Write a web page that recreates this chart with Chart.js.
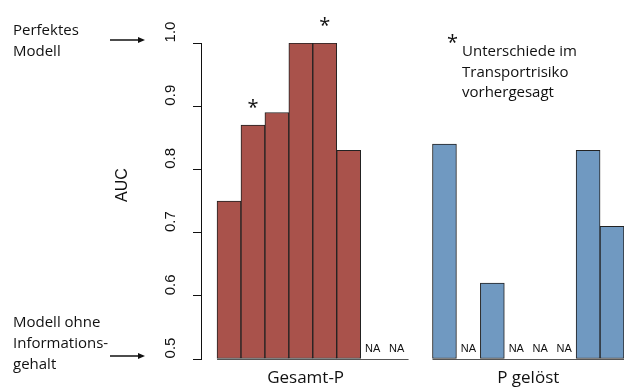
<!DOCTYPE html>
<html>
<head>
<meta charset="utf-8">
<script src="https://cdn.jsdelivr.net/npm/chart.js@4"></script>
<style>
    body { margin: 0; background: #fff; }
    canvas { display: block; }
</style>
</head>
<body>
<canvas id="aucChart" width="625" height="387"></canvas>
<script>
const GROUPS = ['Gesamt-P', 'P gelöst'];
const GESAMT_P = [0.75, 0.87, 0.89, 1.0, 1.0, 0.83, null, null];
const P_GELOEST = [0.84, null, 0.62, null, null, null, 0.83, 0.71];
const GESAMT_P_SIG = [false, true, false, false, true, false, false, false];
const P_GELOEST_SIG = [false, false, false, false, false, false, false, false];
const Y_TICKS = [0.5, 0.6, 0.7, 0.8, 0.9, 1.0];

const RED = '#a9524b';
const BLUE = '#7099c1';
const GROUP_START = [0, 9];   // x slot where each group begins
const TEXT_FONT = '"Open Sans", sans-serif';
const AXIS_FONT = '"Liberation Sans", Arial, sans-serif';
const INK = '#111';

function toPoints(values, start) {
    return values
        .map((v, i) => ({ x: start + i, y: v }))
        .filter(p => p.y !== null);
}

function makeDataset(label, values, start, color) {
    return {
        label: label,
        data: toPoints(values, start),
        base: 0.5,
        grouped: false,
        backgroundColor: color,
        borderColor: '#222',
        borderWidth: 1,
        borderSkipped: false,
        barPercentage: 1,
        categoryPercentage: 1
    };
}

// everything R draws outside the bars: labels, NA marks, stars, notes
const decorations = {
    id: 'decorations',
    afterDraw(chart) {
        const ctx = chart.ctx;
        const x = chart.scales.x;
        const y = chart.scales.y;
        const y0 = y.getPixelForValue(0.5);
        ctx.save();
        ctx.fillStyle = INK;
        ctx.strokeStyle = INK;

        // rotated y tick labels
        ctx.font = '15px ' + AXIS_FONT;
        ctx.textAlign = 'center';
        ctx.textBaseline = 'alphabetic';
        Y_TICKS.forEach(t => {
            ctx.save();
            ctx.translate(y.right - 26, y.getPixelForValue(t) - 11);
            ctx.rotate(-Math.PI / 2);
            ctx.fillText(t.toFixed(1), 0, 0);
            ctx.restore();
        });

        // axis title
        ctx.save();
        ctx.font = '16px ' + AXIS_FONT;
        ctx.translate(127, 185);
        ctx.rotate(-Math.PI / 2);
        ctx.fillText('AUC', 0, 0);
        ctx.restore();

        // baseline under each group, NA marks, stars
        [GESAMT_P, P_GELOEST].forEach((values, g) => {
            const start = GROUP_START[g];
            const sig = g === 0 ? GESAMT_P_SIG : P_GELOEST_SIG;
            const left = x.getPixelForValue(start - 0.5);
            const right = x.getPixelForValue(start + values.length - 0.5);
            ctx.strokeStyle = '#555';
            ctx.lineWidth = 1;
            ctx.beginPath();
            ctx.moveTo(left, Math.round(y0) + 0.5);
            ctx.lineTo(right, Math.round(y0) + 0.5);
            ctx.stroke();

            values.forEach((v, i) => {
                const cx = x.getPixelForValue(start + i);
                if (v === null) {
                    ctx.font = '11px ' + AXIS_FONT;
                    ctx.textAlign = 'center';
                    ctx.fillText('NA', cx, y0 - 7);
                } else if (sig[i]) {
                    ctx.font = '20px ' + TEXT_FONT;
                    ctx.textAlign = 'center';
                    ctx.fillText('*', cx, y.getPixelForValue(v) - 11);
                }
            });
        });

        // group labels
        ctx.font = '17px ' + TEXT_FONT;
        ctx.textAlign = 'center';
        ctx.fillText(GROUPS[0], x.getPixelForValue(3.2), 383);
        ctx.fillText(GROUPS[1], x.getPixelForValue(12.5), 383);

        // notes on the left
        ctx.font = '15px ' + TEXT_FONT;
        ctx.textAlign = 'left';
        ctx.fillText('Perfektes', 13, 35);
        ctx.fillText('Modell', 13, 56);
        ctx.fillText('Modell ohne', 13, 327);
        ctx.fillText('Informations-', 13, 348);
        ctx.fillText('gehalt', 13, 369);
        drawArrow(ctx, 110, 145, 40);
        drawArrow(ctx, 110, 145, 356);

        // star legend
        ctx.font = '20px ' + TEXT_FONT;
        ctx.fillText('*', 447, 49);
        ctx.font = '15px ' + TEXT_FONT;
        ctx.fillText('Unterschiede im', 462, 56);
        ctx.fillText('Transportrisiko', 462, 77);
        ctx.fillText('vorhergesagt', 462, 97);

        ctx.restore();
    }
};

function drawArrow(ctx, x1, x2, yy) {
    ctx.strokeStyle = INK;
    ctx.lineWidth = 1.5;
    ctx.beginPath();
    ctx.moveTo(x1, yy);
    ctx.lineTo(x2 - 5, yy);
    ctx.stroke();
    ctx.beginPath();
    ctx.moveTo(x2, yy);
    ctx.lineTo(x2 - 7, yy - 3);
    ctx.lineTo(x2 - 7, yy + 3);
    ctx.closePath();
    ctx.fill();
}

const ctx = document.getElementById('aucChart').getContext('2d');
new Chart(ctx, {
    type: 'bar',
    data: {
        datasets: [
            makeDataset(GROUPS[0], GESAMT_P, GROUP_START[0], RED),
            makeDataset(GROUPS[1], P_GELOEST, GROUP_START[1], BLUE)
        ]
    },
    options: {
        responsive: false,
        animation: false,
        devicePixelRatio: 1,
        layout: { padding: { top: 43, bottom: 28, left: 0, right: 1 } },
        scales: {
            x: {
                type: 'linear',
                display: false,
                offset: false,
                bounds: 'data',
                min: -1.17,
                max: 16.5,
                ticks: { stepSize: 1, includeBounds: false }
            },
            y: {
                min: 0.5,
                max: 1.0,
                afterFit: scale => { scale.width = 201; },
                afterBuildTicks: scale => {
                    scale.ticks = Y_TICKS.map(v => ({ value: v }));
                },
                ticks: { display: false },
                grid: {
                    drawOnChartArea: false,
                    drawTicks: true,
                    tickLength: 8,
                    color: INK
                },
                border: { display: true, color: INK, width: 1 }
            }
        },
        plugins: {
            legend: { display: false },
            tooltip: { enabled: false }
        }
    },
    plugins: [decorations]
});
</script>
</body>
</html>
